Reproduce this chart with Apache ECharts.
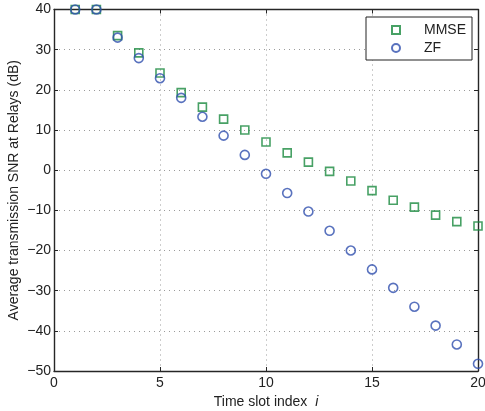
<!DOCTYPE html>
<html>
<head>
<meta charset="utf-8">
<script src="https://cdn.jsdelivr.net/npm/echarts@6/dist/echarts.min.js"></script>
<style>
  html, body { margin: 0; padding: 0; background: #fff; }
  #chart { width: 485px; height: 411px; }
</style>
</head>
<body>
<div id="chart"></div>
<script>
// time slot index
const slots = [1, 2, 3, 4, 5, 6, 7, 8, 9, 10, 11, 12, 13, 14, 15, 16, 17, 18, 19, 20]
// average SNR (dB)
const mmse = [40, 40, 33.5, 29.2, 24.2, 19.3, 15.7, 12.7, 10, 7, 4.3, 2, -0.3, -2.7, -5.1, -7.5, -9.2, -11.2, -12.8, -13.9]
const zf = [40, 40, 33, 27.9, 22.9, 18, 13.3, 8.6, 3.8, -0.9, -5.7, -10.3, -15.1, -20, -24.7, -29.3, -34, -38.7, -43.4, -48.2]

const fontFamily = '"Liberation Sans", Arial, sans-serif'
const axisColor = '#262626'
const gridLine = { show: true, lineStyle: { color: '#9a9a9a', type: [1, 4], width: 1 } }

const chart = echarts.init(document.getElementById('chart'))

const boxAxis = {
  axisLine: { show: true, onZero: false, lineStyle: { color: axisColor, width: 1.4 } },
  axisTick: { show: true, inside: true, length: 4, lineStyle: { color: axisColor } },
  axisLabel: { show: false },
  splitLine: { show: false },
}

chart.setOption({
  animation: false,
  backgroundColor: '#fff',
  textStyle: { fontFamily },
  grid: { left: 54, right: 7, top: 9.5, bottom: 40, outerBoundsMode: 'none', containLabel: false },
  legend: {
    orient: 'vertical',
    left: 366,
    top: 17,
    padding: [6, 6, 5, 25],
    itemGap: 4,
    itemWidth: 8,
    itemHeight: 8,
    backgroundColor: '#fff',
    borderColor: '#222',
    borderWidth: 1,
    borderRadius: 0,
    textStyle: { fontSize: 14, color: '#222', lineHeight: 14, padding: [0, 0, 0, 19] },
    data: ['MMSE', 'ZF'],
  },
  xAxis: [
    {
      type: 'value',
      min: 0,
      max: 20,
      interval: 5,
      name: '{a|Time slot index  }{b|i}',
      nameLocation: 'middle',
      nameGap: 24,
      nameMoveOverlap: false,
      nameTextStyle: {
        rich: {
          a: { fontSize: 14, color: '#222', fontFamily },
          b: { fontSize: 14, color: '#222', fontFamily, fontStyle: 'italic' },
        },
      },
      axisLine: { show: true, onZero: false, lineStyle: { color: axisColor, width: 1.4 } },
      axisTick: { show: true, inside: true, length: 4, lineStyle: { color: axisColor } },
      axisLabel: { fontSize: 14, color: '#222', margin: 5 },
      splitLine: gridLine,
    },
    { type: 'value', position: 'top', min: 0, max: 20, interval: 5, ...boxAxis },
  ],
  yAxis: [
    {
      type: 'value',
      min: -50,
      max: 40,
      interval: 10,
      name: 'Average transmission SNR at Relays (dB)',
      nameLocation: 'middle',
      nameGap: 33,
      nameMoveOverlap: false,
      nameTextStyle: { fontSize: 14, color: '#222' },
      axisLine: { show: true, onZero: false, lineStyle: { color: axisColor, width: 1.4 } },
      axisTick: { show: true, inside: true, length: 4, lineStyle: { color: axisColor } },
      axisLabel: {
        fontSize: 14,
        color: '#222',
        margin: 3,
        formatter: v => String(v).replace('-', '\u2212'),
      },
      splitLine: gridLine,
    },
    { type: 'value', position: 'right', min: -50, max: 40, interval: 10, ...boxAxis },
  ],
  series: [
    {
      name: 'MMSE',
      type: 'scatter',
      symbol: 'rect',
      symbolSize: 8,
      clip: false,
      itemStyle: { color: 'rgba(255,255,255,0)', borderColor: '#1a8a3f', borderWidth: 1.6 },
      data: slots.map((s, k) => [s, mmse[k]]),
    },
    {
      name: 'ZF',
      type: 'scatter',
      symbol: 'circle',
      symbolSize: 9,
      clip: false,
      itemStyle: { color: 'rgba(255,255,255,0)', borderColor: '#2f4fae', borderWidth: 1.6 },
      data: slots.map((s, k) => [s, zf[k]]),
    },
  ],
})
</script>
</body>
</html>
